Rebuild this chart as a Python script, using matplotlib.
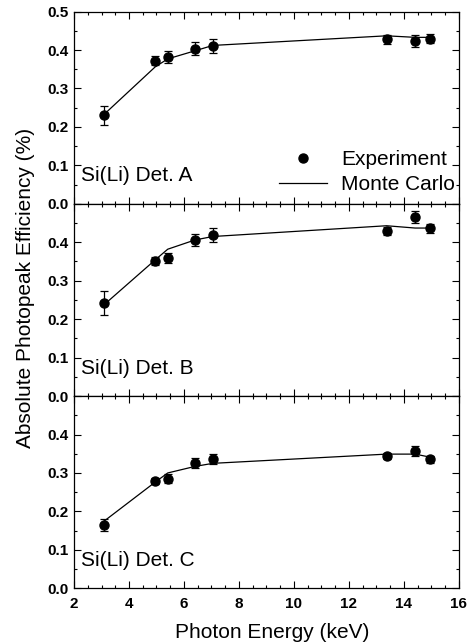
import matplotlib.pyplot as plt
from matplotlib.ticker import MultipleLocator, FuncFormatter

plt.rcParams['font.family'] = ['Liberation Sans', 'DejaVu Sans']

# photon energies (keV)
energy = [3.1, 4.95, 5.41, 6.40, 7.05, 13.37, 14.41, 14.96]

# detector A
exp_a = [0.230, 0.372, 0.382, 0.404, 0.411, 0.428, 0.424, 0.430]
err_a = [0.025, 0.012, 0.015, 0.016, 0.018, 0.012, 0.016, 0.012]
mc_a = [0.233, 0.356, 0.377, 0.398, 0.412, 0.437, 0.433, 0.433]

# detector B
exp_b = [0.242, 0.352, 0.359, 0.406, 0.419, 0.429, 0.466, 0.436]
err_b = [0.030, 0.010, 0.014, 0.016, 0.017, 0.010, 0.016, 0.012]
mc_b = [0.238, 0.354, 0.382, 0.406, 0.415, 0.443, 0.437, 0.437]

# detector C
exp_c = [0.164, 0.278, 0.285, 0.326, 0.337, 0.344, 0.356, 0.335]
err_c = [0.016, 0.008, 0.012, 0.012, 0.013, 0.008, 0.013, 0.009]
mc_c = [0.175, 0.276, 0.300, 0.317, 0.325, 0.349, 0.349, 0.341]

labels = ["Si(Li) Det. A", "Si(Li) Det. B", "Si(Li) Det. C"]

fig, axes = plt.subplots(3, 1, sharex=True, figsize=(4.76, 6.44), dpi=100)
fig.subplots_adjust(left=0.1555, right=0.964, top=0.982, bottom=0.0865, hspace=0)

data = [(exp_a, err_a, mc_a), (exp_b, err_b, mc_b), (exp_c, err_c, mc_c)]

for i, (ax, (ex, er, mc)) in enumerate(zip(axes, data)):
    ax.errorbar(energy, ex, yerr=er, fmt='none', ecolor='black',
                elinewidth=0.9, capsize=3, capthick=0.9)
    ax.plot(energy, ex, 'o', color='black', ms=6.5, label='Experiment')
    ax.plot(energy, mc, '-', color='black', lw=0.9, label='Monte Carlo')

    ax.set_xlim(2, 16)
    ax.set_ylim(0, 0.5)
    ax.xaxis.set_major_locator(MultipleLocator(2))
    ax.xaxis.set_minor_locator(MultipleLocator(0.5))
    ax.yaxis.set_major_locator(MultipleLocator(0.1))
    ax.yaxis.set_minor_locator(MultipleLocator(0.05))
    ax.tick_params(which='both', direction='in', top=True, right=True,
                   width=0.8, labelsize=11)
    ax.tick_params(which='major', length=5)
    ax.tick_params(which='minor', length=2.5)
    ax.tick_params(axis='x', pad=6)
    ax.tick_params(axis='y', pad=4)
    for lab in ax.get_xticklabels() + ax.get_yticklabels():
        lab.set_fontweight('bold')
    if i > 0:
        ax.yaxis.set_major_formatter(
            FuncFormatter(lambda v, p: '' if v > 0.45 else f"{v:.1f}"))
    else:
        ax.yaxis.set_major_formatter(FuncFormatter(lambda v, p: f"{v:.1f}"))
    for s in ax.spines.values():
        s.set_linewidth(0.9)

    ax.text(0.018, 0.145, labels[i], transform=ax.transAxes, fontsize=15,
            ha='left', va='center')

axes[0].legend(loc='lower right', bbox_to_anchor=(0.99, 0.05), frameon=False,
               fontsize=15, handlelength=2.3, handletextpad=0.7,
               labelspacing=0.3, borderpad=0, borderaxespad=0)

fig.text(0.053, 0.553, "Absolute Photopeak Efficiency (%)", rotation=90,
         ha='center', va='center', fontsize=15)
fig.text(0.571, 0.0175, "Photon Energy (keV)", ha='center', va='center',
         fontsize=15)

fig.savefig("out.png", dpi=100)
